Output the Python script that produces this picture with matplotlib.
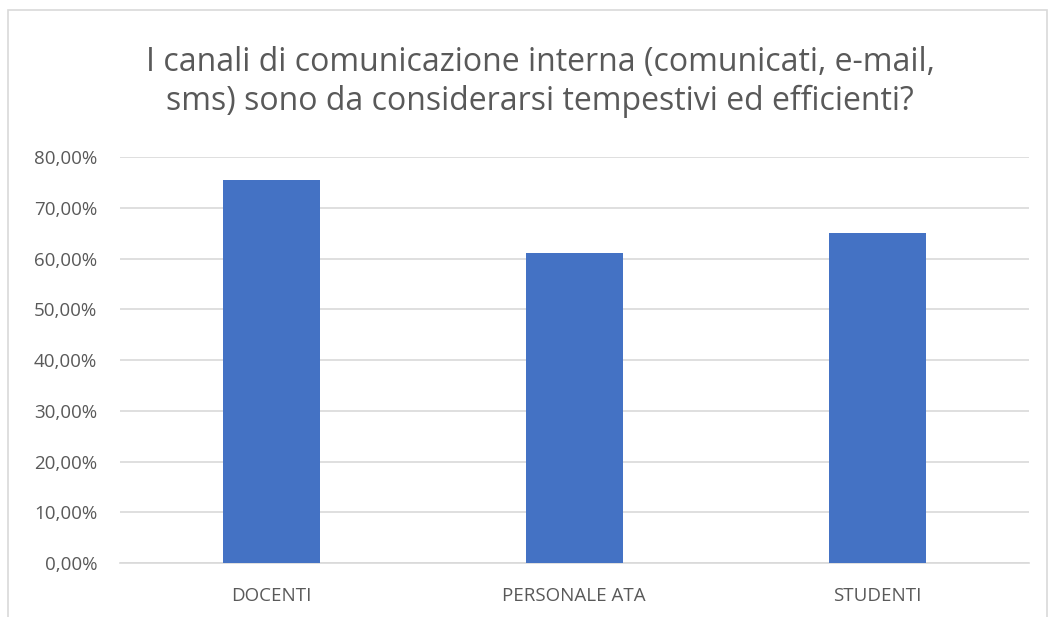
import matplotlib.pyplot as plt
from matplotlib.patches import Rectangle
from matplotlib.ticker import FuncFormatter

categories = ["DOCENTI", "PERSONALE ATA", "STUDENTI"]
values = [0.755, 0.610, 0.651]
yticks = [0.0, 0.1, 0.2, 0.3, 0.4, 0.5, 0.6, 0.7, 0.8]
title = "I canali di comunicazione interna (comunicati, e-mail,\nsms) sono da considerarsi tempestivi ed efficienti?"

plt.rcParams['font.family'] = ['Open Sans', 'DejaVu Sans']

fig = plt.figure(figsize=(10.55, 6.17), dpi=100)
ax = fig.add_axes([0.1133, 0.0875, 0.8616, 0.658])

x = range(len(categories))
ax.bar(x, values, width=0.32, color='#4472C4', zorder=3)
ax.set_xlim(-0.5, len(categories) - 0.5)
ax.set_ylim(0, 0.8)
ax.set_yticks(yticks)
ax.yaxis.set_major_formatter(FuncFormatter(lambda v, p: ("%.2f%%" % (v * 100)).replace('.', ',')))
ax.set_xticks(list(x))
ax.set_xticklabels(categories)

ax.grid(axis='y', color='#D9D9D9', linewidth=1.2, zorder=0)
for s in ['top', 'right', 'left']:
    ax.spines[s].set_visible(False)
ax.spines['bottom'].set_color('#D9D9D9')
ax.spines['bottom'].set_linewidth(1.2)
ax.tick_params(axis='both', length=0, labelsize=13.5, colors='#595959')
ax.tick_params(axis='x', pad=17)
ax.tick_params(axis='y', pad=16)

fig.text(0.512, 0.867, title, ha='center', va='center', fontsize=23,
         color='#595959', linespacing=1.25)

# chart border
fig.patches.append(Rectangle((0.008, -0.01), 0.984, 0.994, transform=fig.transFigure,
                             fill=False, edgecolor='#D9D9D9', linewidth=1.2))

fig.savefig("out.png", dpi=100, facecolor='white')
